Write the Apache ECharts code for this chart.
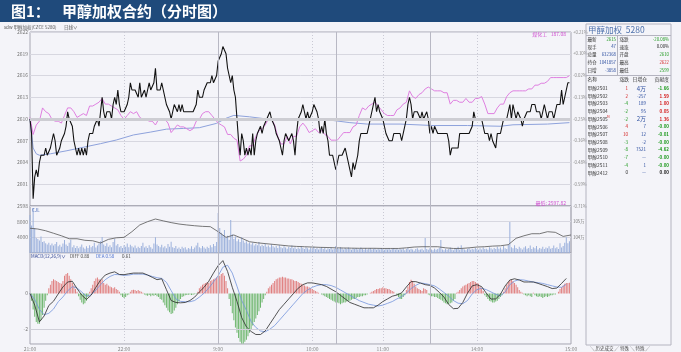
<!DOCTYPE html>
<html>
<head>
<meta charset="utf-8">
<script src="https://cdn.jsdelivr.net/npm/echarts@6/dist/echarts.min.js"></script>
<style>
html, body { margin: 0; padding: 0; background: #f4f4f9; }
#main { width: 681px; height: 352px; }
</style>
</head>
<body>
<div id="main"></div>
<script>
var FONT = '"Noto Sans CJK SC", "Noto Sans", sans-serif';

// 交易时段 -> 分钟刻度
var sessions = [[21 * 60, 120], [9 * 60, 75], [10 * 60 + 30, 60], [13 * 60 + 30, 90]];
var labelTimes = ['21:00', '22:00', '9:00', '10:00', '11:00', '14:00', '15:00'];
var dotTimes = ['22:00', '10:00', '11:00', '14:00'];
var solidTimes = ['9:00', '10:30', '13:30'];

var refPrice = 2616.5;      // 涨跌幅基准
var priceMin = 2598, priceMax = 2622, priceStep = 3;

// 分时价格(每分钟)
var price = [
2610,2608,2599,2602,2603,2602,2604,2605,2605,2605,
2606,2605,2605,2606,2607,2608,2607,2605,2605,2606,
2607,2607,2608,2609,2611,2610,2610,2609,2607,2607,
2605,2606,2605,2606,2605,2606,2605,2607,2608,2608,
2608,2609,2609,2610,2609,2611,2613,2611,2610,2611,
2611,2611,2610,2612,2613,2612,2614,2612,2611,2611,
2611,2611,2612,2613,2615,2614,2614,2614,2614,2613,
2615,2613,2613,2614,2613,2613,2615,2614,2614,2615,
2617,2614,2614,2614,2615,2614,2613,2612,2612,2611,
2610,2611,2612,2612,2611,2612,2611,2612,2611,2611,
2611,2611,2611,2611,2611,2611,2612,2614,2613,2613,
2613,2614,2614,2615,2615,2615,2616,2615,2615,2616,
2618,2618,2619,2620,2620,2619,2617,2616,2615,2616,
2614,2613,2610,2607,2605,2608,2607,2605,2606,2605,
2606,2605,2608,2605,2607,2608,2608,2609,2608,2609,
2609,2610,2610,2611,2610,2610,2609,2608,2608,2607,
2606,2605,2607,2608,2608,2607,2607,2608,2607,2605,
2608,2610,2610,2611,2612,2611,2610,2611,2610,2610,
2611,2612,2612,2611,2610,2608,2609,2608,2610,2608,
2607,2605,2605,2605,2604,2603,2604,2605,2605,2605,
2605,2606,2605,2604,2603,2602,2604,2603,2604,2605,
2607,2608,2608,2608,2608,2608,2609,2610,2610,2612,
2613,2611,2612,2611,2611,2610,2609,2608,2608,2607,
2607,2607,2608,2608,2608,2608,2608,2607,2608,2609,
2610,2612,2613,2612,2610,2611,2611,2611,2611,2610,
2611,2610,2610,2611,2610,2608,2609,2608,2609,2609,
2608,2608,2608,2608,2608,2608,2608,2607,2605,2606,
2606,2606,2606,2606,2608,2608,2608,2608,2608,2608,
2608,2608,2609,2611,2610,2610,2610,2610,2610,2609,
2608,2608,2608,2607,2608,2607,2607,2606,2608,2608,
2608,2609,2610,2610,2610,2611,2612,2610,2612,2611,
2610,2611,2611,2610,2609,2610,2610,2611,2611,2611,
2612,2612,2612,2611,2611,2611,2610,2611,2612,2611,
2610,2611,2611,2611,2610,2611,2612,2612,2612,2614,
2612,2613,2614,2615,2615
];

// 均价线(分钟, 价格)
var avgMin = [0, 2, 4, 6, 13, 23, 34, 45, 55, 66, 77, 87, 98, 108, 119, 125, 130, 140, 151, 172, 193, 204, 215, 236, 257, 279, 300, 308, 330, 344];
var avgPrice = [2610.0, 2606.0, 2605.2, 2605.0, 2605.2, 2605.6, 2606.1, 2606.6, 2607.1, 2607.8, 2608.2, 2608.6, 2608.7, 2608.8, 2609.4, 2610.1, 2610.5, 2610.3, 2610.0, 2609.9, 2609.8, 2609.5, 2609.3, 2609.3, 2609.1, 2609.1, 2609.0, 2609.2, 2609.3, 2609.5];

// 煤化工指数涨跌幅(%) 每2分钟
var chemStep = 2;
var chemPct = [
-0.24,-0.33,-0.28,-0.26,-0.19,-0.21,-0.22,-0.25,-0.26,-0.26,
-0.27,-0.23,-0.19,-0.19,-0.21,-0.24,-0.23,-0.22,-0.23,-0.18,
-0.18,-0.17,-0.16,-0.14,-0.17,-0.17,-0.18,-0.19,-0.20,-0.23,
-0.25,-0.23,-0.21,-0.22,-0.21,-0.24,-0.25,-0.25,-0.26,-0.26,
-0.28,-0.25,-0.25,-0.25,-0.27,-0.32,-0.30,-0.28,-0.29,-0.29,
-0.30,-0.31,-0.30,-0.26,-0.25,-0.22,-0.21,-0.21,-0.23,-0.25,
-0.27,-0.28,-0.29,-0.33,-0.33,-0.35,-0.36,-0.47,-0.46,-0.44,
-0.39,-0.39,-0.34,-0.31,-0.30,-0.28,-0.25,-0.25,-0.28,-0.34,
-0.38,-0.38,-0.34,-0.38,-0.34,-0.34,-0.29,-0.27,-0.29,-0.32,
-0.31,-0.30,-0.32,-0.31,-0.33,-0.34,-0.36,-0.36,-0.36,-0.34,
-0.32,-0.32,-0.32,-0.29,-0.28,-0.23,-0.19,-0.20,-0.18,-0.17,
-0.16,-0.18,-0.20,-0.22,-0.23,-0.23,-0.23,-0.20,-0.19,-0.17,
-0.16,-0.10,-0.13,-0.14,-0.12,-0.11,-0.09,-0.08,-0.09,-0.10,
-0.10,-0.10,-0.11,-0.11,-0.17,-0.15,-0.15,-0.16,-0.16,-0.14,
-0.16,-0.16,-0.14,-0.14,-0.13,-0.17,-0.22,-0.22,-0.22,-0.19,
-0.17,-0.17,-0.13,-0.11,-0.10,-0.10,-0.10,-0.10,-0.10,-0.09,
-0.09,-0.07,-0.07,-0.06,-0.06,-0.05,-0.03,-0.03,-0.03,-0.03,
-0.03,-0.03,-0.02
];

// 成交量(每分钟)
var volume = [
9700,7000,11500,6400,3800,3600,3200,4200,2800,3000,
2500,2200,2600,2000,2400,1900,2300,2800,1700,2100,
1600,2400,3300,2200,1800,2600,3400,1500,2000,1300,
1800,1200,1600,2200,1400,1100,1700,1300,2000,1500,
1800,2600,1400,1900,2400,3000,4100,2200,1800,2500,
1600,2000,1500,2800,3600,1900,2300,1500,1800,1300,
2000,1600,2400,1500,2100,1700,1400,1900,1200,1600,
1300,1800,2600,1400,1700,1300,2000,1500,1100,2400,
4000,2200,1800,1500,2100,1400,1700,1200,2300,1600,
2900,1500,1300,1800,1100,1400,1000,1600,1200,1500,
900,1300,1100,1700,1000,1400,1900,2600,1500,1200,
1800,1400,1100,1600,1300,2000,1500,2300,1800,2800,
10200,6400,5200,4600,5900,3800,4400,3400,8400,4800,
3600,4200,3000,3500,2800,4000,3200,2600,3000,2400,
2700,2200,2600,1900,2300,2000,2800,1700,2100,1800,
2400,1600,1900,1500,2200,1700,1400,1800,1300,2000,
1500,1200,1700,1400,1100,1600,1300,1900,1200,1500,
1000,1400,1100,1700,1300,1000,1500,1200,900,1400,
1100,1600,1000,1300,900,1200,1500,1000,1300,800,
1200,1000,1400,900,1100,1800,1300,1000,1500,1200,
900,1300,1000,1400,1100,800,1200,1000,1300,900,
1100,1400,1000,800,1200,900,1100,1300,900,1000,
1200,800,1100,900,1300,1000,800,1100,900,1200,
800,1000,1300,900,1100,800,1000,900,1200,700,
1000,1300,800,1100,900,600,1000,1200,800,900,
1100,700,3800,1000,800,1200,900,700,1100,800,
1000,1300,3300,900,700,1100,800,1000,1400,900,
700,1200,1000,1600,800,2000,1100,900,700,1000,
1200,800,1100,900,1300,1000,800,1200,900,1400,
1000,1100,800,1500,1200,900,1300,1000,1600,1100,
1400,900,1800,1200,1000,2200,7900,1500,1200,2000,
1300,1000,1600,1200,900,1400,1700,1100,1300,1900,
1000,1500,1200,1800,900,1300,1100,1600,1000,1400,
1200,1700,1100,1300,1900,1200,1500,1000,2500,1400,
1800,2600,4000,2500,3000
];

// 持仓量(万手) 每5分钟
var oiStep = 5;
var openInt = [
104.58,104.53,104.42,104.26,104.10,103.91,103.91,103.81,103.78,103.64,
103.87,103.97,104.00,104.36,104.79,105.00,105.17,105.05,104.94,104.85,
104.79,104.74,104.70,104.68,104.36,104.00,104.15,103.94,103.72,103.65,
103.60,103.55,103.50,103.45,103.42,103.40,103.38,103.36,103.35,103.33,
103.32,103.31,103.30,103.30,103.30,103.29,103.29,103.29,103.33,103.38,
103.40,103.40,103.40,103.33,103.29,103.29,103.33,103.38,103.40,103.44,
103.46,103.53,103.94,104.10,104.23,104.23,104.36,104.32,104.06,104.15
];

// MACD DIFF / DEA 每3分钟
var macdStep = 3;
var diff = [
0.00,-0.65,-1.59,-1.26,-0.67,-0.43,-0.02,0.37,0.65,0.69,
0.28,-0.09,-0.33,-0.09,0.35,0.76,1.04,1.15,1.22,1.07,
1.06,1.11,1.15,1.15,1.15,1.04,0.91,0.78,0.83,0.22,
-0.39,-0.50,-0.52,-0.50,-0.39,-0.20,0.09,0.35,0.69,1.15,
1.57,1.85,1.24,0.35,-0.44,-1.35,-1.87,-2.13,-2.30,-2.30,
-2.10,-1.70,-1.30,-0.90,-0.60,-0.30,0.00,0.30,0.50,0.60,
0.60,0.55,0.50,0.40,0.25,0.10,-0.10,-0.30,-0.50,-0.60,
-0.70,-0.80,-0.80,-0.80,-0.65,-0.45,-0.30,-0.15,-0.08,0.04,
0.37,0.67,0.67,0.59,0.50,0.46,0.31,0.07,-0.20,-0.61,
-0.85,-0.83,-0.50,0.02,0.43,0.50,0.39,0.02,-0.31,-0.30,
-0.04,0.43,0.76,0.83,0.76,0.65,0.65,0.65,0.57,0.48,
0.39,0.28,0.31,0.57,0.85
];
var dea = [
0.00,-0.33,-0.89,-1.19,-1.11,-0.87,-0.46,-0.19,0.15,0.39,
0.31,0.09,-0.15,-0.06,0.19,0.50,0.78,0.96,1.07,1.06,
1.02,1.04,1.09,1.09,1.09,1.04,0.96,0.89,0.85,0.63,
0.17,-0.30,-0.44,-0.46,-0.46,-0.39,-0.20,0.02,0.31,0.65,
1.00,1.48,1.59,1.15,0.41,-0.39,-0.94,-1.57,-1.90,-2.10,
-2.15,-2.00,-1.80,-1.50,-1.20,-0.90,-0.60,-0.30,0.00,0.20,
0.35,0.45,0.50,0.50,0.45,0.35,0.20,0.05,-0.10,-0.25,
-0.40,-0.50,-0.60,-0.65,-0.70,-0.65,-0.55,-0.45,-0.30,-0.17,
0.02,0.28,0.46,0.59,0.56,0.50,0.43,0.26,0.06,-0.15,
-0.39,-0.54,-0.57,-0.39,-0.02,0.22,0.30,0.22,0.09,-0.04,
-0.13,0.09,0.50,0.70,0.78,0.76,0.70,0.65,0.61,0.57,
0.50,0.43,0.37,0.35,0.52
];

// MACD 柱(每分钟)
var macdHist = [
0,-0.4,-0.9,-1.3,-1.6,-1.7,-1.7,-1.5,-1.2,-0.8,
-0.4,-0.1,0.3,0.5,0.7,0.8,0.75,0.7,0.65,0.6,
0.55,0.7,1.0,1.1,1.15,1.0,0.8,0.6,0.45,0.25,
0.1,-0.15,-0.35,-0.5,-0.6,-0.55,-0.4,-0.2,0.1,0.3,
0.5,0.7,0.85,0.9,0.8,0.75,0.8,0.6,0.5,0.55,
0.45,0.4,0.35,0.3,0.35,0.25,0.2,0.1,-0.1,-0.2,
-0.25,-0.2,-0.1,-0.05,0.1,0.2,0.22,0.2,0.15,0.2,
0.15,0.1,0.05,-0.05,-0.1,-0.12,-0.08,-0.15,-0.1,-0.12,
-0.08,-0.15,-0.2,-0.3,-0.35,-0.5,-0.65,-0.8,-0.95,-1.05,
-1.15,-1.1,-0.95,-0.8,-0.6,-0.45,-0.3,-0.2,-0.15,-0.1,
-0.08,-0.06,-0.05,-0.08,-0.06,-0.04,-0.02,0.1,0.3,0.4,
0.5,0.55,0.6,0.65,0.6,0.7,0.75,0.8,0.85,0.9,
0.95,1.0,1.1,1.15,1.0,0.7,0.3,-0.3,-0.7,-1.1,
-1.5,-1.9,-2.2,-2.5,-2.7,-2.8,-2.8,-2.7,-2.6,-2.4,
-2.2,-2.0,-1.8,-1.6,-1.4,-1.2,-1.0,-0.8,-0.5,-0.3,
-0.1,0.1,0.3,0.4,0.5,0.6,0.7,0.8,0.85,0.9,
0.9,0.95,0.9,0.9,0.85,0.85,0.8,0.8,0.75,0.7,
0.7,0.65,0.6,0.55,0.5,0.45,0.4,0.4,0.35,0.3,
0.25,0.2,0.15,0.1,0.05,0,-0.05,-0.1,-0.15,-0.2,
-0.25,-0.3,-0.35,-0.4,-0.45,-0.5,-0.5,-0.55,-0.6,-0.55,
-0.5,-0.5,-0.45,-0.4,-0.4,-0.35,-0.3,-0.3,-0.25,-0.2,
-0.2,-0.15,-0.15,-0.1,-0.1,-0.05,0,0.05,0.1,0.15,
0.2,0.25,0.25,0.3,0.3,0.35,0.3,0.3,0.25,0.25,
0.2,0.15,0.1,0,-0.1,-0.2,-0.3,-0.3,-0.2,-0.1,
0.2,0.4,0.65,0.78,0.7,0.55,0.4,0.3,0.25,0.2,
0.15,0.3,0.25,0.2,-0.05,-0.1,-0.15,-0.15,-0.2,-0.2,
-0.25,-0.3,-0.35,-0.4,-0.5,-0.55,-0.6,-0.6,-0.55,-0.5,
-0.4,-0.3,0.05,0.1,0.2,0.3,0.4,0.45,0.5,0.55,
0.6,0.65,0.7,0.7,0.65,0.6,0.55,0.4,0.3,0.15,
-0.1,-0.2,-0.3,-0.4,-0.45,-0.5,-0.5,-0.45,-0.4,-0.3,
-0.2,-0.1,0.1,0.3,0.5,0.65,0.75,0.78,0.7,0.6,
0.5,0.35,0.2,0.1,0.05,-0.05,-0.1,-0.15,-0.1,-0.15,
-0.2,0.05,-0.1,-0.15,-0.2,-0.15,-0.2,-0.25,-0.2,-0.15,
-0.2,-0.15,-0.1,-0.1,-0.05,-0.05,0,0.1,0.25,0.35,
0.45,0.55,0.6,0.6,0.61
];

// 右侧报价表
var infoRows = [
  ['最新', '2615', '#1e9a1e', '涨跌', '-20.08%', '#1e9a1e'],
  ['现手', '47', '#2d4fa0', '速涨', '0.00%', '#222'],
  ['总量', '632368', '#2d4fa0', '开盘', '2610', '#1e9a1e'],
  ['持仓', '1041857', '#2d4fa0', '最高', '2622', '#d42020'],
  ['日增', '-3858', '#2d4fa0', '最低', '2599', '#1e9a1e']
];
var contracts = ['甲醇2501', '甲醇2502', '甲醇2503', '甲醇2504', '甲醇2505', '甲醇2506', '甲醇2507', '甲醇2508', '甲醇2509', '甲醇2510', '甲醇2511', '甲醇2412'];
var contractChg = [1, 2, -4, -2, -2, 4, 10, -3, -8, -7, -4, 0];
var contractOiChg = ['4万', '-257', '189', '95', '2万', '7', '12', '-2', '7521', '—', '1', '—'];
var contractContrib = ['-1.66', '1.59', '1.00', '0.05', '1.36', '-0.00', '-0.01', '-0.00', '-4.62', '-0.00', '-0.00', '0.00'];

// ---------------------------------------------------------------
var times = [];
sessions.forEach(function (s, i) {
  for (var k = (i === 0 ? 0 : 1); k <= s[1]; k++) {
    var t = s[0] + k;
    if (k === s[1] && i < sessions.length - 1) t = sessions[i + 1][0];
    times.push((Math.floor(t / 60) % 24) + ':' + ('0' + t % 60).slice(-2));
  }
});

function strided(arr, step) {
  return arr.map(function (v, i) { return [i * step, v]; });
}

function txt(x, y, s, fill, size, align, weight) {
  return {
    type: 'text', x: x, y: y, silent: true, z: 10,
    style: {
      text: s, fill: fill || '#333', fontSize: size || 5, fontFamily: FONT,
      fontWeight: weight || 'normal', align: align || 'left', verticalAlign: 'middle'
    }
  };
}
function ln(x1, y1, x2, y2, c, w) {
  return { type: 'line', silent: true, z: 10, shape: { x1: x1, y1: y1, x2: x2, y2: y2 }, style: { stroke: c || '#b4b4c0', lineWidth: w || 1 } };
}

function xAx(i) {
  return {
    type: 'category', gridIndex: i, data: times, boundaryGap: false,
    axisLine: { show: false }, axisTick: { show: false },
    axisLabel: {
      show: i === 2, fontSize: 5, color: '#888', margin: 3, fontFamily: FONT,
      interval: function (idx, v) { return labelTimes.indexOf(v) >= 0; }
    },
    splitLine: {
      show: true,
      interval: function (idx, v) { return dotTimes.indexOf(v) >= 0; },
      lineStyle: { color: '#c9c9d4', type: [1, 2], width: 1 }
    }
  };
}

var vLines = solidTimes.map(function (t) {
  return { xAxis: t, lineStyle: { color: '#b8b8c4', width: 1, type: 'solid' } };
});
function marks(extra) {
  return {
    silent: true, symbol: 'none', animation: false, label: { show: false },
    lineStyle: { color: '#b8b8c4', width: 1, type: 'solid' },
    data: vLines.concat(extra || [])
  };
}

var axisLabelBase = { fontSize: 5, color: '#777', fontFamily: FONT, margin: 2 };

var g = [];
g.push({ type: 'rect', shape: { x: 0, y: 0, width: 681, height: 22 }, style: { fill: '#1f4a7b' }, silent: true });
g.push(txt(11, 11.5, '图1：', '#fff', 15, 'left', 'bold'));
g.push(txt(62, 11.5, '甲醇加权合约（分时图）', '#fff', 15, 'left', 'bold'));
g.push(txt(4, 27.5, 'sdw 甲醇加权(CZCE 5280)', '#555', 4.5));
g.push(txt(64, 27.5, '日线∨', '#555', 4.5));
g.push(txt(566, 34, '煤化工   187.08', '#d04fd0', 5, 'right'));
g.push(txt(566, 203, '最低: 2597.82', '#d04fd0', 5, 'right'));
g.push(txt(32, 210, 'CJL', '#3b5fb0', 4.5));
g.push(txt(31, 256.5, 'MACD(12,26,9)∨', '#2a3f8f', 4.5));
g.push(txt(70, 256.5, 'DIFF 0.88', '#444', 4.5));
g.push(txt(96, 256.5, 'DEA 0.58', '#4a70d0', 4.5));
g.push(txt(122, 256.5, '0.61', '#444', 4.5));

// 右侧面板
g.push({ type: 'rect', shape: { x: 586, y: 24, width: 85, height: 321 }, style: { fill: 'rgba(246,246,251,0)', stroke: '#b4b4c0', lineWidth: 1 }, silent: true, z: 9 });
g.push(txt(588, 30, '甲醇加权  5280', '#4f72ad', 8.5));
g.push(ln(586, 35.5, 671, 35.5));
g.push(ln(617.5, 35.5, 617.5, 75.5));
g.push(ln(586, 75.5, 671, 75.5));
infoRows.forEach(function (r, i) {
  var y = 39 + i * 7.8;
  g.push(txt(587.5, y, r[0], '#333', 4.6));
  g.push(txt(616, y, r[1], r[2], 4.3, 'right'));
  g.push(txt(619.5, y, r[3], '#333', 4.6));
  g.push(txt(669, y, r[4], r[5], 4.3, 'right'));
});
g.push(txt(587.5, 79.5, '名称', '#333', 4.8));
g.push(txt(629, 79.5, '涨跌', '#333', 4.8, 'right'));
g.push(txt(647, 79.5, '日增仓', '#333', 4.8, 'right'));
g.push(txt(669, 79.5, '贡献度', '#333', 4.8, 'right'));
contracts.forEach(function (name, i) {
  var y = 88.3 + i * 7.68;
  var c = contractChg[i];
  var cb = contractContrib[i];
  g.push(txt(587.5, y, name, '#333', 4.8));
  g.push(txt(628, y, String(c), c > 0 ? '#d42020' : (c < 0 ? '#1e9a1e' : '#222'), 4.5, 'right'));
  g.push(txt(646, y, contractOiChg[i], '#2d4fa0', contractOiChg[i].indexOf('万') >= 0 ? 6 : 4.5, 'right'));
  g.push(txt(669, y, cb, cb.charAt(0) === '-' ? '#1e9a1e' : (cb === '0.00' ? '#222' : '#d42020'), 4.5, 'right', 'bold'));
});
g.push(txt(607, 116.5, 'M', '#d42020', 3.2));
g.push(txt(590, 348, '╲ 历史成交 ╱ 特殊 ╲ 特殊 ╱', '#444', 4.5));

var chart = echarts.init(document.getElementById('main'));
var option = {
  animation: false,
  backgroundColor: '#f4f4f9',
  textStyle: { fontFamily: FONT },
  graphic: g,
  grid: [
    { left: 30, top: 32, width: 541, height: 174, show: true, borderColor: '#a6a6b2', borderWidth: 1 },
    { left: 30, top: 206, width: 541, height: 47, show: true, borderColor: '#8a8a98', borderWidth: 1 },
    { left: 30, top: 253, width: 541, height: 92, show: true, borderColor: '#a6a6b2', borderWidth: 1 }
  ],
  xAxis: [xAx(0), xAx(1), xAx(2)],
  yAxis: [
    {
      type: 'value', gridIndex: 0, min: priceMin, max: priceMax, interval: priceStep,
      axisLine: { show: false }, axisTick: { show: false },
      axisLabel: Object.assign({}, axisLabelBase, { formatter: function (v) { return String(v); } }),
      splitLine: { lineStyle: { color: '#d7d7e0', width: 1 } }
    },
    {
      type: 'value', gridIndex: 0, position: 'right', min: priceMin, max: priceMax, interval: priceStep,
      axisLine: { show: false }, axisTick: { show: false }, splitLine: { show: false },
      axisLabel: {
        fontSize: 4.3, color: '#888', fontFamily: FONT, margin: 2,
        formatter: function (v) {
          var p = (v / refPrice - 1) * 100;
          return (p >= 0 ? '+' : '') + p.toFixed(2) + '%';
        }
      }
    },
    {
      type: 'value', gridIndex: 0, show: false,
      min: (priceMin / refPrice - 1) * 100, max: (priceMax / refPrice - 1) * 100
    },
    {
      type: 'value', gridIndex: 1, min: 0, max: 12000, interval: 4000,
      axisLine: { show: false }, axisTick: { show: false },
      axisLabel: Object.assign({}, axisLabelBase, {
        formatter: function (v) { return (v === 0 || v === 12000) ? '' : String(v); }
      }),
      splitLine: { lineStyle: { color: '#d7d7e0', width: 1 } }
    },
    {
      type: 'value', gridIndex: 1, position: 'right', min: 103, max: 106, interval: 1,
      axisLine: { show: false }, axisTick: { show: false }, splitLine: { show: false },
      axisLabel: {
        fontSize: 4.3, color: '#777', fontFamily: FONT, margin: 2,
        formatter: function (v) { return (v === 104 || v === 105) ? v + '万' : ''; }
      }
    },
    {
      type: 'value', gridIndex: 2, min: -2.833, max: 2.278,
      axisLine: { show: false }, axisTick: { show: false }, splitLine: { show: false },
      axisLabel: Object.assign({}, axisLabelBase, { customValues: [0, -2] })
    }
  ],
  series: [
    {
      name: '均价', type: 'line', xAxisIndex: 0, yAxisIndex: 0, z: 2,
      data: avgMin.map(function (m, i) { return [m, avgPrice[i]]; }),
      symbol: 'none', lineStyle: { color: '#8ea2dc', width: 1 },
      markLine: marks([{ yAxis: 2610, lineStyle: { color: '#cdcdd3', width: 3, type: 'solid' } }])
    },
    {
      name: '煤化工', type: 'line', xAxisIndex: 0, yAxisIndex: 2, z: 3,
      data: strided(chemPct, chemStep),
      symbol: 'none', lineStyle: { color: '#df7fe0', width: 1 }
    },
    {
      name: '价格', type: 'line', xAxisIndex: 0, yAxisIndex: 0, z: 4,
      data: price, symbol: 'none', lineStyle: { color: '#111', width: 1.1 }
    },
    {
      name: '成交量', type: 'bar', xAxisIndex: 1, yAxisIndex: 3, barWidth: 1,
      data: volume, itemStyle: { color: '#9cb1dc' }
    },
    {
      name: '持仓', type: 'line', xAxisIndex: 1, yAxisIndex: 4, z: 3,
      data: strided(openInt, oiStep), symbol: 'none', lineStyle: { color: '#555', width: 0.8 },
      markLine: marks()
    },
    {
      name: 'MACD', type: 'bar', xAxisIndex: 2, yAxisIndex: 5, barWidth: 1,
      data: macdHist,
      itemStyle: { color: function (p) { return p.value >= 0 ? '#e07f7f' : '#6db66d'; } }
    },
    {
      name: 'DIFF', type: 'line', xAxisIndex: 2, yAxisIndex: 5, z: 4,
      data: strided(diff, macdStep), symbol: 'none', lineStyle: { color: '#2a2a2a', width: 0.8 }
    },
    {
      name: 'DEA', type: 'line', xAxisIndex: 2, yAxisIndex: 5, z: 3,
      data: strided(dea, macdStep), symbol: 'none', lineStyle: { color: '#7394dc', width: 0.8 },
      markLine: marks([{ yAxis: -2, lineStyle: { color: '#cfcfd8', width: 1, type: 'solid' } }])
    }
  ]
};
chart.setOption(option);
window.addEventListener('resize', function () { chart.resize(); });
</script>
</body>
</html>
